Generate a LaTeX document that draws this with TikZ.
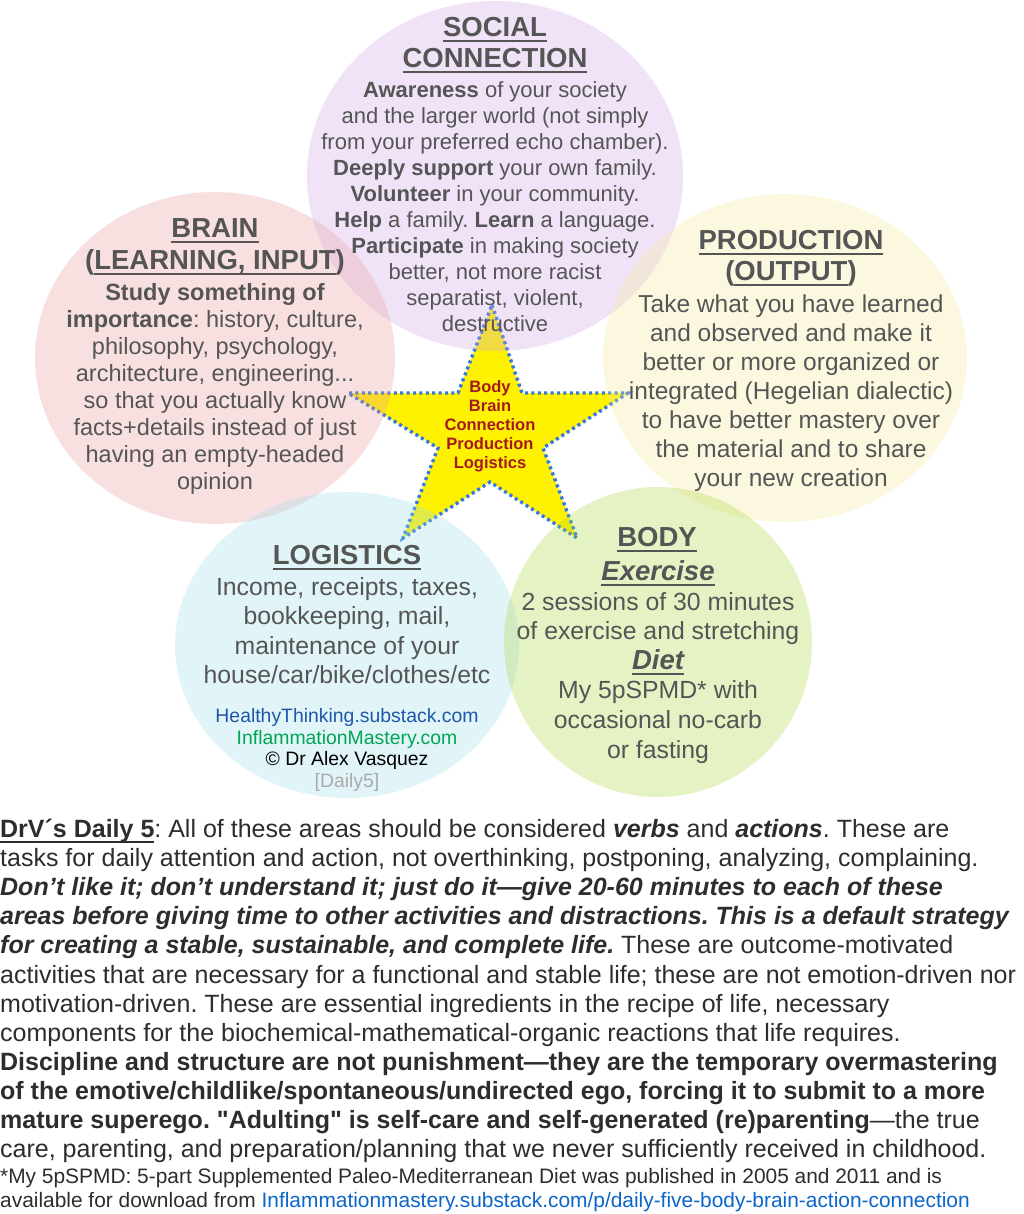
\documentclass[tikz,border=0pt]{standalone}
\usepackage{fontspec}
\setmainfont{Liberation Sans}
\usetikzlibrary{positioning}
\frenchspacing

\definecolor{txtgray}{RGB}{85,85,85}
\definecolor{paragray}{RGB}{45,45,45}
\definecolor{socialfill}{RGB}{208,165,232}
\definecolor{brainfill}{RGB}{235,155,158}
\definecolor{prodfill}{RGB}{248,235,155}
\definecolor{logifill}{RGB}{158,222,238}
\definecolor{bodyfill}{RGB}{172,212,58}
\definecolor{starblue}{RGB}{50,120,222}
\definecolor{starred}{RGB}{165,25,35}
\definecolor{linkblue}{RGB}{31,87,168}
\definecolor{linkgreen}{RGB}{0,166,81}
\definecolor{notelink}{RGB}{11,102,201}

% underline drawn as a rule just below the baseline
\newcommand{\undl}[1]{\leavevmode\setbox0=\hbox{#1}\rlap{\rule[-0.21em]{\wd0}{0.09em}}\box0}

\begin{document}
\begin{tikzpicture}[
    x=1pt, y=-1pt,
    bubble/.style={fill opacity=0.3},
    starshape/.style={fill=yellow, draw=starblue, line width=3.4pt, dash pattern=on 3pt off 3.4pt},
    title/.style={anchor=north, inner sep=0pt, align=center, text=txtgray, font=\fontsize{27.5}{31}\selectfont\bfseries},
    bodytext/.style={anchor=north, inner sep=0pt, align=center, text=txtgray},
    startext/.style={anchor=north, inner sep=0pt, align=center, text=starred, font=\fontsize{16.5}{19}\selectfont\bfseries},
    para/.style={anchor=north west, inner sep=0pt, align=left, text=paragray}
]
\useasboundingbox (0,0) rectangle (1023,1214);
\fill[white] (0,0) rectangle (1023,1214);

% Star in the middle
\filldraw[starshape] (492,305) -- (522,393) -- (628,393) -- (543,448) -- (577,538) -- (490,482)
    -- (403,538) -- (438,448) -- (348,393) -- (458,393) -- cycle;

% Five areas
\fill[bubble, socialfill] (495,176) ellipse [x radius=188pt, y radius=175pt];
\fill[bubble, brainfill] (215,358) ellipse [x radius=180pt, y radius=166pt];
\fill[bubble, prodfill] (785,358) ellipse [x radius=182pt, y radius=164pt];
\fill[bubble, logifill] (347,645) ellipse [x radius=172pt, y radius=153pt];
\fill[bubble, bodyfill] (658,642) ellipse [x radius=154pt, y radius=155pt];

% Social connection
\node[title] (socialtitle) at (495,17.3) {\undl{SOCIAL}\\\undl{CONNECTION}};
\node[bodytext, font=\fontsize{22}{26}\selectfont] (social) at (495,81.2) {%
    \textbf{Awareness} of your society\\
    and the larger world (not simply\\
    from your preferred echo chamber).\\
    \textbf{Deeply support} your own family.\\
    \textbf{Volunteer} in your community.\\
    \textbf{Help} a family. \textbf{Learn} a language.\\
    \textbf{Participate} in making society\\
    better, not more racist\\
    separatist, violent,\\
    destructive};

% Brain
\node[title, font=\fontsize{27.5}{32}\selectfont\bfseries] (braintitle) at (215,218.3) {\undl{BRAIN}\\(\undl{LEARNING, INPUT})};
\node[bodytext, font=\fontsize{23.5}{27}\selectfont] (brain) at (215,283.1) {%
    \textbf{Study something of}\\
    \textbf{importance}: history, culture,\\
    philosophy, psychology,\\
    architecture, engineering...\\
    so that you actually know\\
    facts+details instead of just\\
    having an empty-headed\\
    opinion};

% Production
\node[title] (prodtitle) at (791,230.3) {\undl{PRODUCTION}\\(\undl{OUTPUT})};
\node[bodytext, font=\fontsize{24.5}{29}\selectfont] (prod) at (791,294.4) {%
    Take what you have learned\\
    and observed and make it\\
    better or more organized or\\
    integrated (Hegelian dialectic)\\
    to have better mastery over\\
    the material and to share\\
    your new creation};

% Logistics
\node[title] (logititle) at (347,545.3) {\undl{LOGISTICS}};
\node[bodytext, font=\fontsize{24.8}{29.3}\selectfont] (logi) at (347,577.4) {%
    Income, receipts, taxes,\\
    bookkeeping, mail,\\
    maintenance of your\\
    house/car/bike/clothes/etc};
\node[bodytext, font=\fontsize{19.4}{21.5}\selectfont] (credits) at (347,708.3) {%
    \textcolor{linkblue}{HealthyThinking.substack.com}\\
    \textcolor{linkgreen}{InflammationMastery.com}\\
    \textcolor{black}{© Dr Alex Vasquez}\\
    \textcolor[RGB]{170,170,170}{[Daily5]}};

% Body
\node[title] (bodytitle) at (657,527.3) {\undl{BODY}};
\node[bodytext, font=\fontsize{24.8}{29.6}\selectfont] (body) at (658,560.3) {%
    {\fontsize{27.5}{29.6}\selectfont\bfseries\itshape\undl{Exercise}}\\
    2 sessions of 30 minutes\\
    of exercise and stretching\\
    {\fontsize{27.5}{29.6}\selectfont\bfseries\itshape\undl{Diet}}\\
    My 5pSPMD* with\\
    occasional no-carb\\
    or fasting};

% Star label
\node[startext] (starlabel) at (490,380) {Body\\Brain\\Connection\\Production\\Logistics};

% Text below
\node[para, font=\fontsize{25}{29.1}\selectfont] (daily) at (0,819) {%
    \undl{\textbf{DrV´s Daily 5}}: All of these areas should be considered \textbf{\textit{verbs}} and \textbf{\textit{actions}}. These are\\
    tasks for daily attention and action, not overthinking, postponing, analyzing, complaining.\\
    \textbf{\textit{Don’t like it; don’t understand it; just do it—give 20-60 minutes to each of these}}\\
    \textbf{\textit{areas before giving time to other activities and distractions. This is a default strategy}}\\
    \textbf{\textit{for creating a stable, sustainable, and complete life.}} These are outcome-motivated\\
    activities that are necessary for a functional and stable life; these are not emotion-driven nor\\
    motivation-driven. These are essential ingredients in the recipe of life, necessary\\
    components for the biochemical-mathematical-organic reactions that life requires.\\
    \textbf{Discipline and structure are not punishment—they are the temporary overmastering}\\
    \textbf{of the emotive/childlike/spontaneous/undirected ego, forcing it to submit to a more}\\
    \textbf{mature superego. \textquotedbl Adulting\textquotedbl{} is self-care and self-generated (re)parenting}—the true\\
    care, parenting, and preparation/planning that we never sufficiently received in childhood.};
\node[para, font=\fontsize{20.9}{24}\selectfont] (footnote) at (0,1168) {%
    *My 5pSPMD: 5-part Supplemented Paleo-Mediterranean Diet was published in 2005 and 2011 and is\\
    available for download from \textcolor{notelink}{Inflammationmastery.substack.com/p/daily-five-body-brain-action-connection}};
\end{tikzpicture}
\end{document}
